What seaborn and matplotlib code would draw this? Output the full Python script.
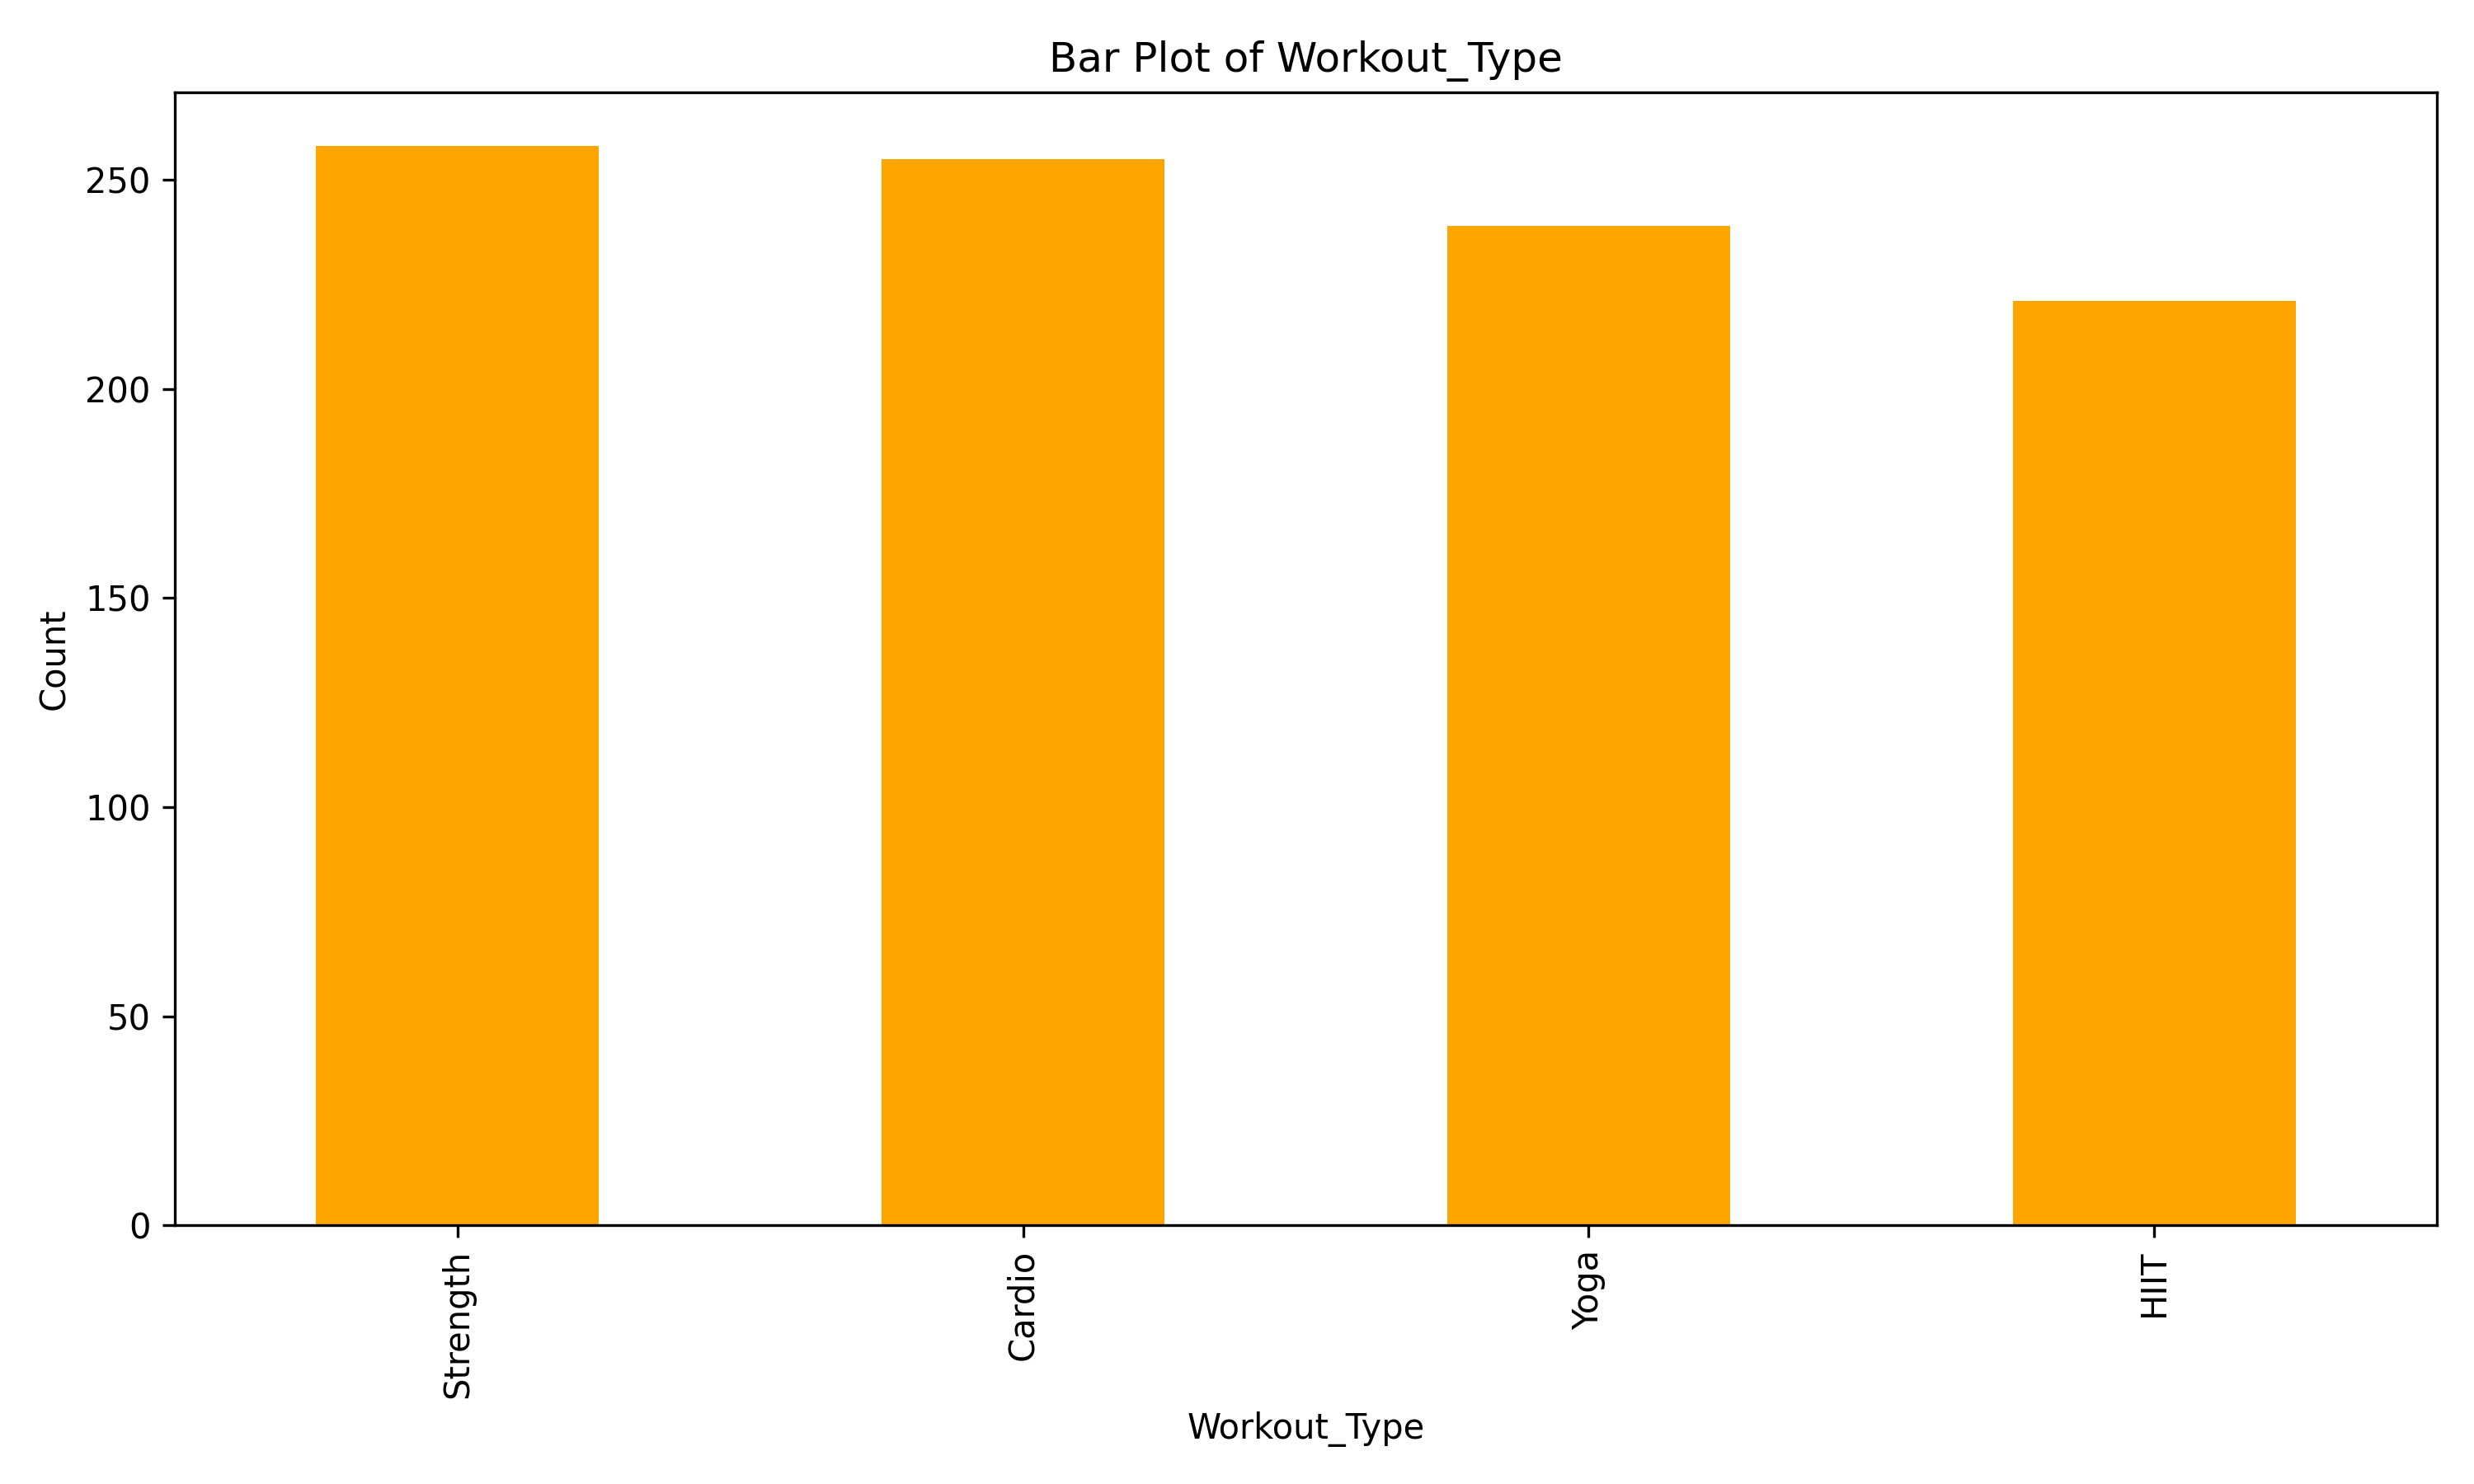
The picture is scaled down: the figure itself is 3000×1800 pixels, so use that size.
import pandas as pd
import matplotlib
matplotlib.use("Agg")
import matplotlib.pyplot as plt
import seaborn as sns

# valores
workout_types = ['Strength', 'Cardio', 'Yoga', 'HIIT']
counts = [258, 255, 239, 221]

df = pd.DataFrame({'Workout_Type': workout_types, 'Count': counts})

plt.rcParams['font.family'] = ['DejaVu Sans']

fig, ax = plt.subplots(figsize=(10, 6))

sns.barplot(
    data=df,
    x='Workout_Type',
    y='Count',
    color='orange',
    saturation=1,
    width=0.5,
    ax=ax
)
ax.set_xlim(-0.5, len(workout_types) - 0.5)
ax.tick_params(axis='x', rotation=90)
ax.set_title("Bar Plot of Workout_Type")
ax.set_xlabel("Workout_Type")
ax.set_ylabel("Count")
plt.tight_layout()
plt.savefig("out.png", dpi=300)
